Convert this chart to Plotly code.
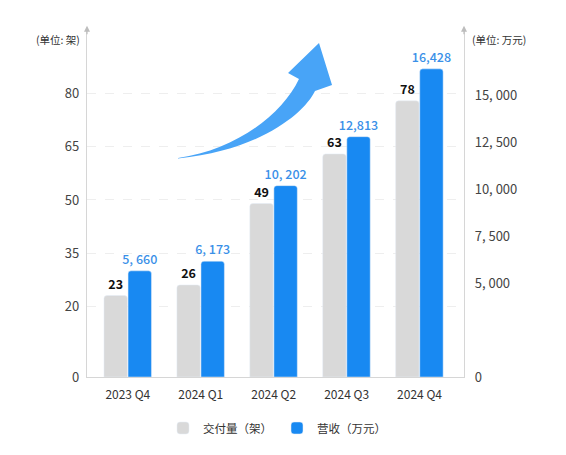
import plotly.graph_objects as go

# ---- data ----
quarters = ["2023 Q4", "2024 Q1", "2024 Q2", "2024 Q3", "2024 Q4"]
deliveries = [23, 26, 49, 63, 78]                # 交付量（架）
revenue = [5660, 6173, 10202, 12813, 16428]      # 营收（万元）
revenue_labels = ["5, 660", "6, 173", "10, 202", "12,813", "16,428"]
left_ticks = [0, 20, 35, 50, 65, 80]
right_ticks = [0, 5000, 7500, 10000, 12500, 15000]
right_tick_text = ["0", "5, 000", "7, 500", "10, 000", "12, 500", "15, 000"]

FONT = "Noto Sans CJK SC"
OFF = 8                      # page body margin
W, H = 566 - OFF, 455 - OFF
ML, MT = 87 - OFF, 30 - OFF
MR = W - (464 - OFF)
MB = H - (377 - OFF)
PW, PH = W - ML - MR, H - MT - MB

GRAY = "#d9d9d9"
BLUE = "#1889f2"
LABEL_BLUE = "#3a90e8"
ARROW_BLUE = "#48a4f7"

fig = go.Figure()
fig.add_trace(go.Bar(
    x=quarters, y=deliveries, name="交付量（架）",
    marker=dict(color=GRAY, cornerradius=3),
    offset=-0.327, width=0.321,
    text=[str(v) for v in deliveries], textposition="outside", constraintext="none",
    textfont=dict(family=FONT, size=12.5, color="#111", weight=600),
    cliponaxis=False, yaxis="y",
))
fig.add_trace(go.Bar(
    x=quarters, y=revenue, name="营收（万元）",
    marker=dict(color=BLUE, cornerradius=3),
    offset=0.003, width=0.321,
    text=revenue_labels, textposition="outside", constraintext="none",
    textfont=dict(family=FONT, size=12.5, color=LABEL_BLUE, weight=500),
    cliponaxis=False, yaxis="y2",
))


def px2paper(X, Y):
    # X, Y are reference page pixel positions
    return (X - OFF - ML) / PW, (H - MB - (Y - OFF)) / PH


# decorative growth arrow (drawn in paper space)
pts = {
    "tail": (178, 158), "u1": (235, 150), "u2": (282, 115), "ub": (299, 79),
    "lw": (288, 73), "tip": (319, 43), "rw": (332, 85), "lb": (315, 91),
    "l1": (305, 112), "l2": (262, 150), "tail2": (178, 158.5),
}
pp = {k: px2paper(*v) for k, v in pts.items()}
f = lambda k: f"{pp[k][0]:.4f},{pp[k][1]:.4f}"
arrow_path = (f"M{f('tail')} C{f('u1')} {f('u2')} {f('ub')} L{f('lw')} L{f('tip')} "
              f"L{f('rw')} L{f('lb')} C{f('l1')} {f('l2')} {f('tail2')} Z")
fig.add_shape(type="path", path=arrow_path, xref="paper", yref="paper",
              fillcolor=ARROW_BLUE, line=dict(width=0), layer="above")

# axis arrow heads and unit labels
for xpos in (0, 1):
    fig.add_annotation(x=xpos, y=1.012, xref="paper", yref="paper", text="",
                       showarrow=True, ax=0, ay=10, arrowhead=2, arrowsize=1,
                       arrowwidth=1.2, arrowcolor="#bdbdbd")
ux, uy = px2paper(58, 40)
fig.add_annotation(x=ux, y=uy, xref="paper", yref="paper", xanchor="center", yanchor="middle",
                   text="(单位: 架)", showarrow=False,
                   font=dict(family=FONT, size=10.5, color="#333"))
ux, uy = px2paper(499, 40)
fig.add_annotation(x=ux, y=uy, xref="paper", yref="paper", xanchor="center", yanchor="middle",
                   text="(单位: 万元)", showarrow=False,
                   font=dict(family=FONT, size=10.5, color="#333"))
lx, ly = px2paper(277, 428)

fig.update_layout(
    width=W, height=H,
    margin=dict(l=ML, r=MR, t=MT, b=MB, autoexpand=False),
    paper_bgcolor="white", plot_bgcolor="white",
    barmode="overlay",
    font=dict(family=FONT, color="#444"),
    showlegend=True,
    legend=dict(orientation="h", x=lx, xanchor="center", y=ly, yanchor="middle",
                font=dict(family=FONT, size=11.5, color="#333"), itemwidth=30,
                traceorder="normal"),
    xaxis=dict(type="category", range=[-0.56, 4.61], showgrid=False,
               showline=True, linecolor="#d6d6d6", linewidth=1.2, ticks="",
               ticklabelstandoff=6,
               tickfont=dict(family=FONT, size=12, color="#333"), zeroline=False),
    yaxis=dict(range=[0, 98], tickvals=left_ticks, ticktext=[str(t) for t in left_ticks],
               showgrid=True, gridcolor="#eeeeee", griddash="dash", gridwidth=1,
               showline=True, linecolor="#d6d6d6", linewidth=1.2, ticks="",
               ticklabelstandoff=4, zeroline=False,
               tickfont=dict(family=FONT, size=13, color="#444")),
    yaxis2=dict(range=[0, 18500], overlaying="y", side="right",
                tickvals=right_ticks, ticktext=right_tick_text, showgrid=False,
                showline=True, linecolor="#d6d6d6", linewidth=1.2, ticks="",
                ticklabelstandoff=7, zeroline=False,
                tickfont=dict(family=FONT, size=13, color="#444")),
)

fig.write_html("out.html")
